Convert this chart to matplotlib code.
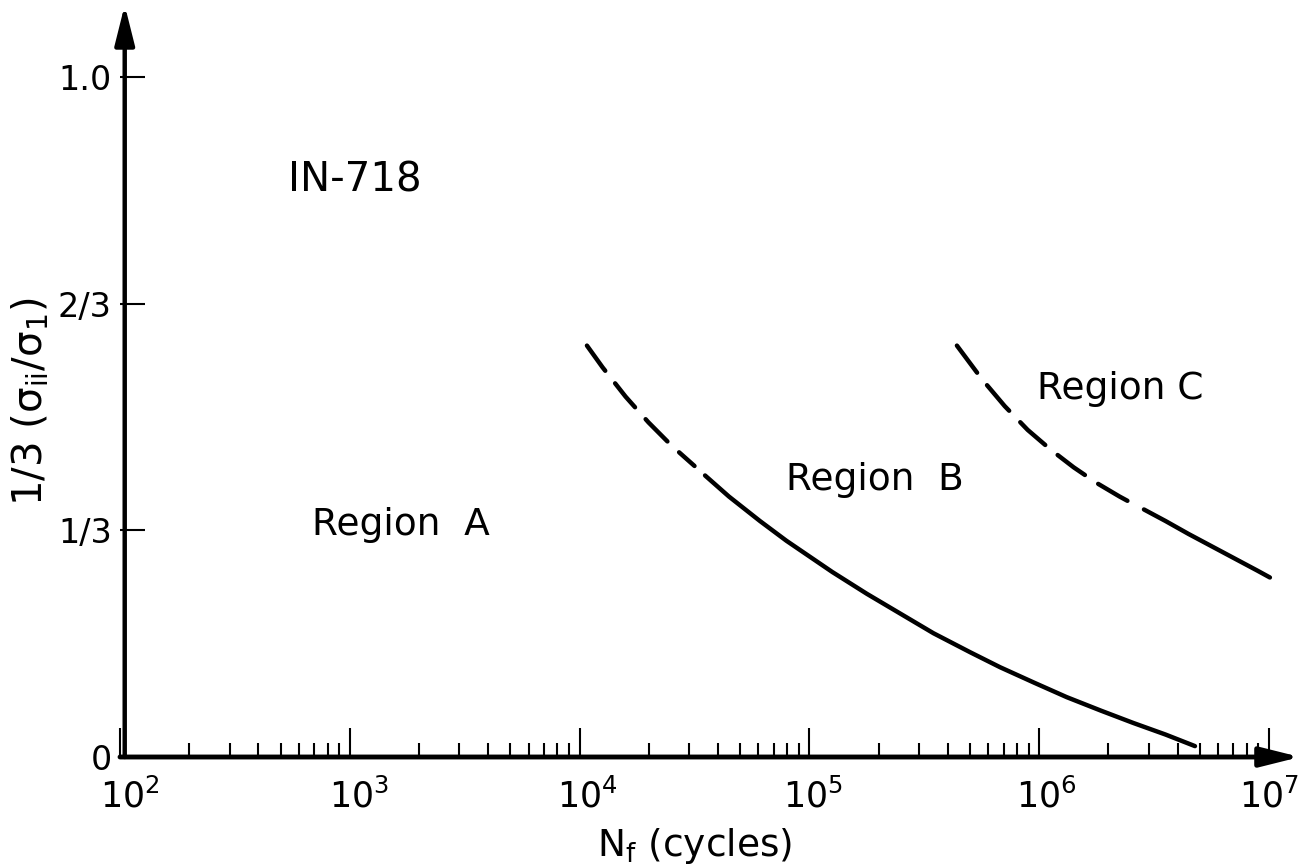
import numpy as np
import matplotlib.pyplot as plt
import matplotlib.ticker as mticker
import matplotlib.transforms as mtransforms

# Datos: exponente de N_f (10**exp) y valor en eje y
b_dash_exp = [4.032, 4.10, 4.20, 4.30, 4.40, 4.50]
b_dash_y = [0.605, 0.573, 0.530, 0.492, 0.458, 0.428]
b_solid_exp = [4.546, 4.65, 4.785, 4.90, 5.00, 5.10, 5.25, 5.40, 5.54, 5.70,
               5.83, 5.98, 6.12, 6.27, 6.41, 6.55, 6.678]
b_solid_y = [0.414, 0.383, 0.347, 0.318, 0.295, 0.272, 0.240, 0.210, 0.182, 0.154,
             0.132, 0.109, 0.088, 0.068, 0.050, 0.033, 0.016]

c_dash_exp = [5.642, 5.75, 5.85, 5.95, 6.05, 6.15, 6.25, 6.35, 6.41]
c_dash_y = [0.605, 0.556, 0.516, 0.481, 0.452, 0.426, 0.403, 0.383, 0.372]
c_solid_exp = [6.456, 6.55, 6.65, 6.75, 6.85, 6.95, 7.004]
c_solid_y = [0.364, 0.347, 0.328, 0.310, 0.292, 0.274, 0.264]

ytick_vals = [0, 1/3, 2/3, 1.0]
ytick_labels = ['0', '1/3', '2/3', '1.0']
xtick_vals = [1e2, 1e3, 1e4, 1e5, 1e6, 1e7]
xtick_labels = [r'$10^{2}$', r'$10^{3}$', r'$10^{4}$', r'$10^{5}$', r'$10^{6}$', r'$10^{7}$']

plt.rcParams['mathtext.fontset'] = 'dejavusans'
plt.rcParams['mathtext.default'] = 'regular'

fig = plt.figure(figsize=(13.07, 8.66), dpi=100)
ax = fig.add_axes([120/1307, 1 - 757/866, 1180/1307, 752/866])

ax.set_xscale('log')
ax.set_xlim(1e2, 10**7.135)
ax.set_ylim(0, 752/680)

lw = 3.2
ax.plot(10**np.array(b_dash_exp), b_dash_y, color='k', lw=lw,
        linestyle=(0, (7, 3.6)), dash_capstyle='round')
ax.plot(10**np.array(b_solid_exp), b_solid_y, color='k', lw=lw, solid_capstyle='round')
ax.plot(10**np.array(c_dash_exp), c_dash_y, color='k', lw=lw,
        linestyle=(0, (7.6, 3.6)), dash_capstyle='round')
ax.plot(10**np.array(c_solid_exp), c_solid_y, color='k', lw=lw, solid_capstyle='round')

# ejes con flechas
for s in ax.spines.values():
    s.set_visible(False)
head = '-|>,head_length=1.2,head_width=0.3'
ax.annotate('', xy=(1, 0), xytext=(0, 0), xycoords='axes fraction',
            arrowprops=dict(arrowstyle=head, lw=3.5, color='k',
                            mutation_scale=20, shrinkA=0, shrinkB=0))
ax.annotate('', xy=(0.004, 1), xytext=(0.004, 0), xycoords='axes fraction',
            arrowprops=dict(arrowstyle=head, lw=3.2, color='k',
                            mutation_scale=20, shrinkA=0, shrinkB=0))

ax.set_xticks(xtick_vals)
ax.set_xticklabels(xtick_labels, fontsize=25)
ax.xaxis.set_minor_locator(mticker.LogLocator(base=10, subs=np.arange(2, 10)))
ax.xaxis.set_minor_formatter(mticker.NullFormatter())
ax.tick_params(axis='x', which='major', direction='in', length=21, width=1.5, pad=15)
ax.tick_params(axis='x', which='minor', direction='in', length=10, width=1.5)
# el "10" queda casi centrado sobre la marca, el exponente sobresale a la derecha
label_shift_px = [10, 9, 8, 4, 7, 0]
for lab, dx in zip(ax.get_xticklabels(), label_shift_px):
    shift = mtransforms.ScaledTranslation(dx/100, 0, fig.dpi_scale_trans)
    lab.set_transform(lab.get_transform() + shift)

ax.set_yticks(ytick_vals)
ax.set_yticklabels(ytick_labels, fontsize=24)
ax.tick_params(axis='y', which='major', direction='in', length=18, width=1.5, pad=6)

ax.set_xlabel(r'N$_\mathsf{f}$ (cycles)', fontsize=27)
ax.xaxis.set_label_coords(0.487, -0.092)
ax.set_ylabel(r'1/3 $(\sigma_{ii}/\sigma_1)$', fontsize=29)
ax.yaxis.set_label_coords(-0.058, 0.472)

ax.text(10**3.023, 0.848, 'IN-718', fontsize=29, ha='center', va='center')
ax.text(10**3.223, 0.341, 'Region  A', fontsize=27, ha='center', va='center')
ax.text(10**5.285, 0.408, 'Region  B', fontsize=27, ha='center', va='center')
ax.text(10**6.352, 0.541, 'Region C', fontsize=27, ha='center', va='center')

fig.savefig('out.png', dpi=100)
